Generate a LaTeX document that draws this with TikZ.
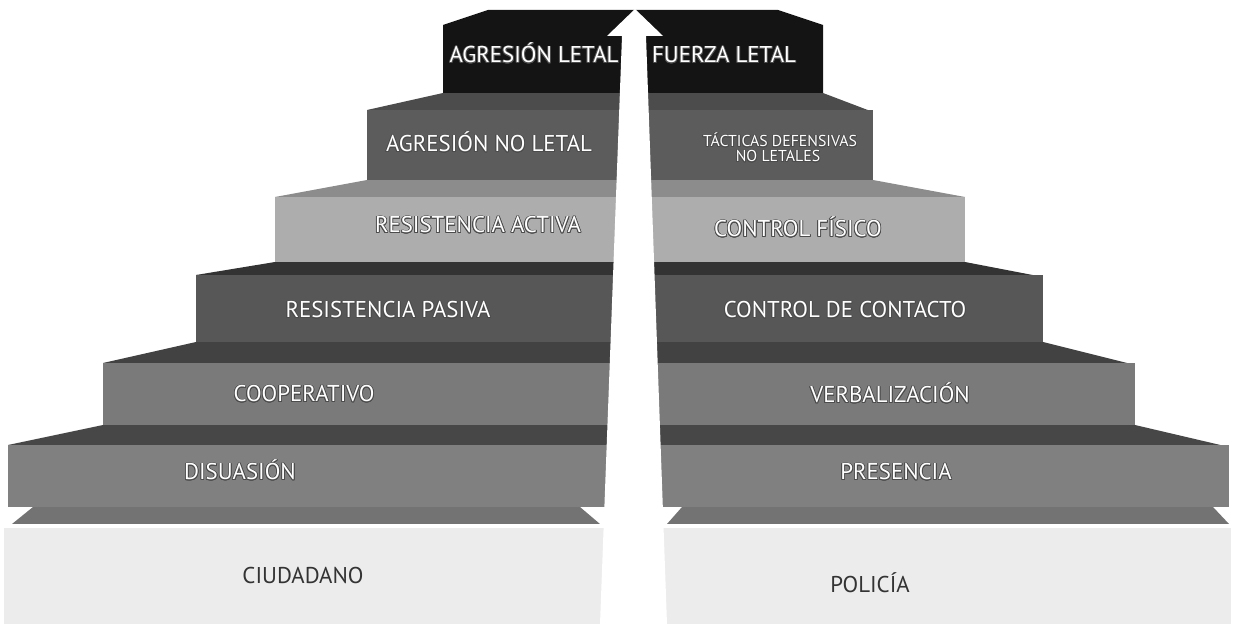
\documentclass[tikz,border=0pt]{standalone}
\usepackage{fontspec}
\setmainfont{PT Sans}
\usepackage{tikz}
\usepackage{contour}
\contourlength{0.45pt}
\usetikzlibrary{calc}

\definecolor{escNegro}{HTML}{141414}
\definecolor{escBase}{HTML}{ECECEC}

\tikzset{
  rotulo/.style={anchor=base, inner sep=0pt, text=white,
    font=\fontsize{13}{14}\selectfont},
  rotuloChico/.style={rotulo, font=\fontsize{9}{10}\selectfont},
  pie/.style={anchor=base, inner sep=0pt, text=black!80,
    font=\fontsize{13}{14}\selectfont},
}
\newcommand{\blanco}[1]{\contour{black!70}{#1}}

\begin{document}
\begin{tikzpicture}[x=0.02cm, y=-0.02cm]
  \useasboundingbox (0,0) rectangle (1234,624);
  % base
  \fill[escBase] (4,528) rectangle (1231,624);
  % pies
  \fill[black!55] (12,524) -- (33,507) -- (580,507) -- (600,524) -- cycle;
  \fill[black!55] (667,524) -- (682,507) -- (1213,507) -- (1229,524) -- cycle;
  % escalon 6
  \fill[black!72] (8,445) -- (103,425) -- (1135,425) -- (1229,447) -- cycle;
  \fill[black!50] (8,445) rectangle (1229,507);
  % escalon 5
  \fill[black!74] (103,363) -- (196,342) -- (1043,342) -- (1135,365) -- cycle;
  \fill[black!52] (103,363) rectangle (1135,425);
  % escalon 4
  \fill[black!80] (196,275) -- (275,262) -- (965,262) -- (1043,277) -- cycle;
  \fill[black!66] (196,275) rectangle (1043,342);
  % escalon 3
  \fill[black!45] (275,197) -- (367,180) -- (873,180) -- (965,197) -- cycle;
  \fill[black!32] (275,197) rectangle (965,262);
  % escalon 2
  \fill[black!70] (367,110) -- (443,93) -- (823,93) -- (873,112) -- cycle;
  \fill[black!64] (367,110) rectangle (873,180);
  % escalon 1 (cima)
  \fill[escNegro] (443,25) -- (488,10) -- (778,10) -- (823,25) -- (823,93) -- (443,93) -- cycle;
  % flecha
  \fill[white] (635,9) -- (663,36) -- (646,36) -- (667,624) -- (600,624)
    -- (622,36) -- (607,36) -- cycle;

  % textos ciudadano
  \node[rotulo] (agrLetal) at (534,63) {\blanco{AGRESIÓN LETAL}};
  \node[rotulo] (agrNoLetal) at (489,152) {\blanco{AGRESIÓN NO LETAL}};
  \node[rotulo] (resActiva) at (478,233) {\blanco{RESISTENCIA ACTIVA}};
  \node[rotulo] (resPasiva) at (388,318) {\blanco{RESISTENCIA PASIVA}};
  \node[rotulo] (coop) at (304,402) {\blanco{COOPERATIVO}};
  \node[rotulo] (disuasion) at (240,480) {\blanco{DISUASIÓN}};
  % textos policia
  \node[rotulo] (fzaLetal) at (724,63) {\blanco{FUERZA LETAL}};
  \node[rotuloChico] (tacticas) at (780,147) {\blanco{TÁCTICAS DEFENSIVAS}};
  \node[rotuloChico] (noLetales) at (778,162) {\blanco{NO LETALES}};
  \node[rotulo] (ctrlFisico) at (798,237) {\blanco{CONTROL FÍSICO}};
  \node[rotulo] (ctrlContacto) at (845,318) {\blanco{CONTROL DE CONTACTO}};
  \node[rotulo] (verbal) at (890,403) {\blanco{VERBALIZACIÓN}};
  \node[rotulo] (presencia) at (896,480) {\blanco{PRESENCIA}};
  % pies de grafico
  \node[pie] (ciudadano) at (303,583) {CIUDADANO};
  \node[pie] (policia) at (870,592) {POLICÍA};
\end{tikzpicture}
\end{document}
